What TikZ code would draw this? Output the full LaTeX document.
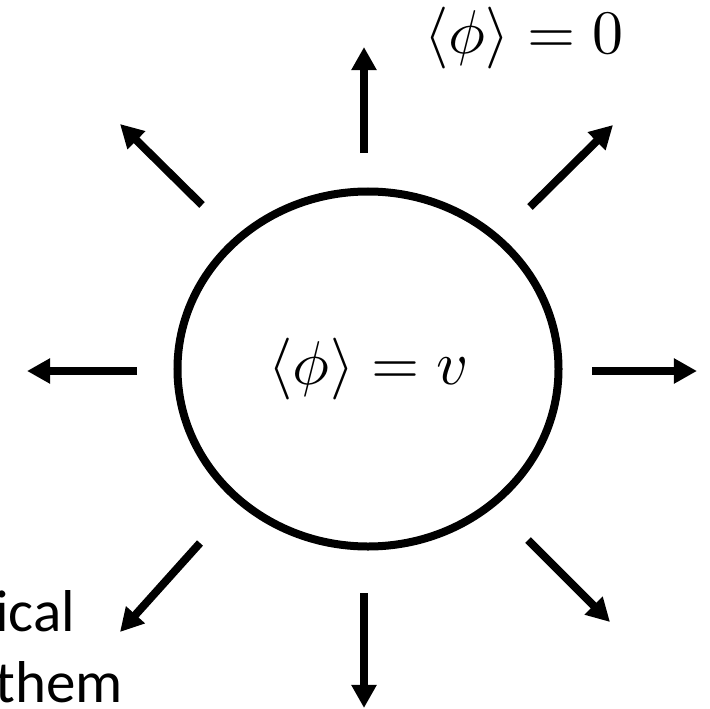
\documentclass[tikz,border=0pt]{standalone}
\usepackage{fontspec}
\usepackage{unicode-math}
\setmainfont{Carlito}
\setmathfont{Latin Modern Math}
\usetikzlibrary{arrows.meta,shapes.geometric}

\begin{document}
\begin{tikzpicture}[
   x=0.25mm, y=-0.25mm,
   ray/.style={-{Triangle[length=5.8mm,width=6mm]},line width=2mm},
   bubble/.style={draw,ellipse,line width=2mm,minimum width=95.25mm,
                  minimum height=88.75mm,inner sep=0pt},
   vev/.style={font=\fontsize{44}{52}\selectfont},
   remark/.style={font=\fontsize{42}{50}\selectfont,align=left,inner sep=0pt},
   ]
\useasboundingbox (0,0) rectangle (710,709);
%% the bubble of true vacuum
\node[bubble,vev] (bub) at (368,369) {$\langle\phi\rangle = v$};
%% outside: false vacuum
\node[vev] (vac) at (524,38) {$\langle\phi\rangle = 0$};
%% growing wall
\foreach \n/\tx/\ty/\hx/\hy in {n/364/153/364/47, ne/530/207/613/125,
      e/592/371/697/371, se/528/540/610/622, s/364/593/364/708,
      sw/200/543/120/632, w/137/371/27/371, nw/202/205/120/124} {
   \coordinate (\n-tail) at (\tx,\ty);
   \coordinate (\n-tip) at (\hx,\hy);
   \draw[ray] (\n-tail) -- (\n-tip);
}
%% cut-off note
\node[remark,anchor=base west] (note) at (-5,702) {ical\\them};
\end{tikzpicture}
\end{document}
